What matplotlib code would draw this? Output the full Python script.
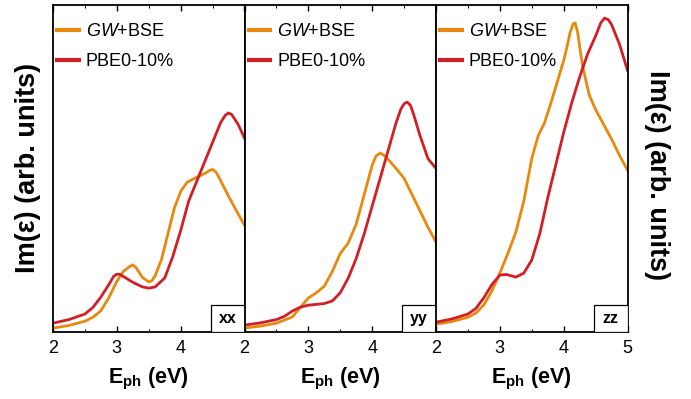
import matplotlib
matplotlib.use("Agg")
import matplotlib.pyplot as plt
from matplotlib.ticker import MultipleLocator
from matplotlib.patches import Rectangle

plt.rcParams['font.family'] = ['Liberation Sans', 'DejaVu Sans']
plt.rcParams['mathtext.fontset'] = 'custom'
plt.rcParams['mathtext.rm'] = 'Liberation Sans'
plt.rcParams['mathtext.it'] = 'Liberation Sans:italic'
plt.rcParams['mathtext.bf'] = 'Liberation Sans:bold'

# ---- data (normalised, arb. units) ----
xx_gw_E = [2.0, 2.25, 2.5, 2.625, 2.75, 2.875, 2.95, 3.0, 3.1, 3.2, 3.25, 3.3, 3.4, 3.5, 3.55, 3.6, 3.7, 3.8, 3.9, 4.0, 4.1, 4.25, 4.4, 4.45, 4.5, 4.55, 4.6, 4.75, 4.875, 5.0]
xx_gw_I = [0.012, 0.02, 0.033, 0.045, 0.065, 0.105, 0.135, 0.155, 0.185, 0.2, 0.205, 0.197, 0.167, 0.153, 0.157, 0.172, 0.222, 0.3, 0.378, 0.43, 0.458, 0.473, 0.487, 0.494, 0.497, 0.49, 0.473, 0.415, 0.37, 0.327]
xx_pbe_E = [2.0, 2.25, 2.5, 2.625, 2.75, 2.875, 2.95, 3.0, 3.05, 3.1, 3.25, 3.4, 3.5, 3.6, 3.75, 3.875, 4.0, 4.125, 4.25, 4.375, 4.5, 4.625, 4.7, 4.75, 4.8, 4.9, 5.0]
xx_pbe_I = [0.027, 0.038, 0.055, 0.075, 0.107, 0.145, 0.17, 0.177, 0.176, 0.17, 0.152, 0.138, 0.134, 0.138, 0.165, 0.23, 0.31, 0.4, 0.46, 0.52, 0.58, 0.64, 0.663, 0.67, 0.665, 0.635, 0.593]

yy_gw_E = [2.0, 2.25, 2.5, 2.75, 2.875, 3.0, 3.125, 3.25, 3.375, 3.5, 3.625, 3.75, 3.875, 4.0, 4.06, 4.125, 4.19, 4.25, 4.375, 4.5, 4.625, 4.75, 4.875, 5.0]
yy_gw_I = [0.012, 0.018, 0.027, 0.046, 0.075, 0.104, 0.12, 0.14, 0.185, 0.24, 0.272, 0.33, 0.42, 0.51, 0.538, 0.547, 0.54, 0.528, 0.5, 0.47, 0.42, 0.37, 0.32, 0.275]
yy_pbe_E = [2.0, 2.25, 2.5, 2.625, 2.75, 2.875, 3.0, 3.25, 3.375, 3.5, 3.625, 3.75, 3.875, 4.0, 4.125, 4.25, 4.375, 4.45, 4.5, 4.55, 4.6, 4.65, 4.75, 4.875, 5.0]
yy_pbe_I = [0.021, 0.028, 0.038, 0.048, 0.064, 0.076, 0.082, 0.087, 0.095, 0.12, 0.165, 0.225, 0.3, 0.385, 0.47, 0.555, 0.64, 0.682, 0.698, 0.703, 0.693, 0.665, 0.6, 0.53, 0.5]

zz_gw_E = [2.0, 2.25, 2.5, 2.625, 2.75, 2.875, 3.0, 3.125, 3.25, 3.375, 3.5, 3.6, 3.7, 3.8, 3.9, 4.0, 4.05, 4.1, 4.15, 4.18, 4.22, 4.26, 4.3, 4.4, 4.5, 4.625, 4.75, 4.875, 5.0]
zz_gw_I = [0.024, 0.032, 0.045, 0.058, 0.083, 0.125, 0.18, 0.24, 0.305, 0.4, 0.53, 0.6, 0.64, 0.7, 0.765, 0.83, 0.87, 0.915, 0.943, 0.945, 0.915, 0.86, 0.81, 0.725, 0.68, 0.635, 0.59, 0.54, 0.495]
zz_pbe_E = [2.0, 2.25, 2.5, 2.625, 2.75, 2.875, 3.0, 3.1, 3.25, 3.375, 3.5, 3.625, 3.75, 3.875, 4.0, 4.125, 4.25, 4.375, 4.5, 4.58, 4.64, 4.7, 4.75, 4.875, 5.0]
zz_pbe_I = [0.03, 0.04, 0.055, 0.072, 0.105, 0.145, 0.174, 0.176, 0.168, 0.18, 0.22, 0.3, 0.41, 0.51, 0.61, 0.7, 0.78, 0.85, 0.905, 0.945, 0.96, 0.955, 0.94, 0.88, 0.8]

panels = ['xx', 'yy', 'zz']
series = {
    'xx': (xx_gw_E, xx_gw_I, xx_pbe_E, xx_pbe_I),
    'yy': (yy_gw_E, yy_gw_I, yy_pbe_E, yy_pbe_I),
    'zz': (zz_gw_E, zz_gw_I, zz_pbe_E, zz_pbe_I),
}
legend_labels = [r'$\mathit{GW}$+BSE', 'PBE0-10%']
xticks_shown = {'xx': [2, 3, 4], 'yy': [2, 3, 4], 'zz': [2, 3, 4, 5]}

c_gw = '#E8890E'
c_pbe = '#D21F26'

W, H = 691, 399
fig = plt.figure(figsize=(W / 100, H / 100), dpi=100)
left, width = 53 / W, 191.5 / W
bottom, height = 1 - 332 / H, 327 / H
box_w, box_h = 34 / 191.5, 27 / 327

for i, p in enumerate(panels):
    ax = fig.add_axes([left + i * width, bottom, width, height])
    gE, gI, pE, pI = series[p]
    ax.plot(gE, gI, color=c_gw, lw=2.0, label=legend_labels[0], solid_joinstyle='round')
    ax.plot(pE, pI, color=c_pbe, lw=2.0, label=legend_labels[1], solid_joinstyle='round')
    ax.set_xlim(2, 5)
    ax.set_ylim(0, 1)
    ax.set_yticks([])
    ax.xaxis.set_major_locator(MultipleLocator(1))
    ax.xaxis.set_minor_locator(MultipleLocator(0.5))
    ax.tick_params(axis='x', which='both', direction='in', top=True, bottom=True,
                   labelsize=13, pad=6)
    ax.tick_params(axis='x', which='major', length=4, width=1)
    ax.tick_params(axis='x', which='minor', length=2.5, width=0.8)
    ax.set_xticks([2, 3, 4, 5])
    ax.set_xticklabels([str(t) if t in xticks_shown[p] else '' for t in [2, 3, 4, 5]])
    for s in ax.spines.values():
        s.set_linewidth(1.3)
    ax.set_xlabel(r'E$_{\mathbf{ph}}$ (eV)', fontsize=15.5, fontweight='bold', labelpad=6)
    leg = ax.legend(loc='upper left', frameon=False, fontsize=13, handlelength=1.2,
                    handletextpad=0.4, labelspacing=0.72, borderaxespad=0.0,
                    borderpad=0.0, bbox_to_anchor=(4 / 191.5, 1 - 18 / 327))
    for lh in leg.get_lines():
        lh.set_linewidth(3)
    ax.add_patch(Rectangle((1 - box_w, 0), box_w, box_h, transform=ax.transAxes,
                           fc='white', ec='black', lw=0.9, zorder=5))
    ax.text(1 - box_w / 2, box_h / 2, p, transform=ax.transAxes, ha='center', va='center',
            fontsize=11.5, fontweight='bold', zorder=6)

fig.text(28 / W, 1 - 168 / H, 'Im(ε) (arb. units)', rotation=90, ha='center',
         va='center', fontsize=19.5, fontweight='bold')
fig.text(657 / W, 1 - 175 / H, 'Im(ε) (arb. units)', rotation=270, ha='center',
         va='center', fontsize=19.5, fontweight='bold')

fig.savefig('out.png', dpi=100)
